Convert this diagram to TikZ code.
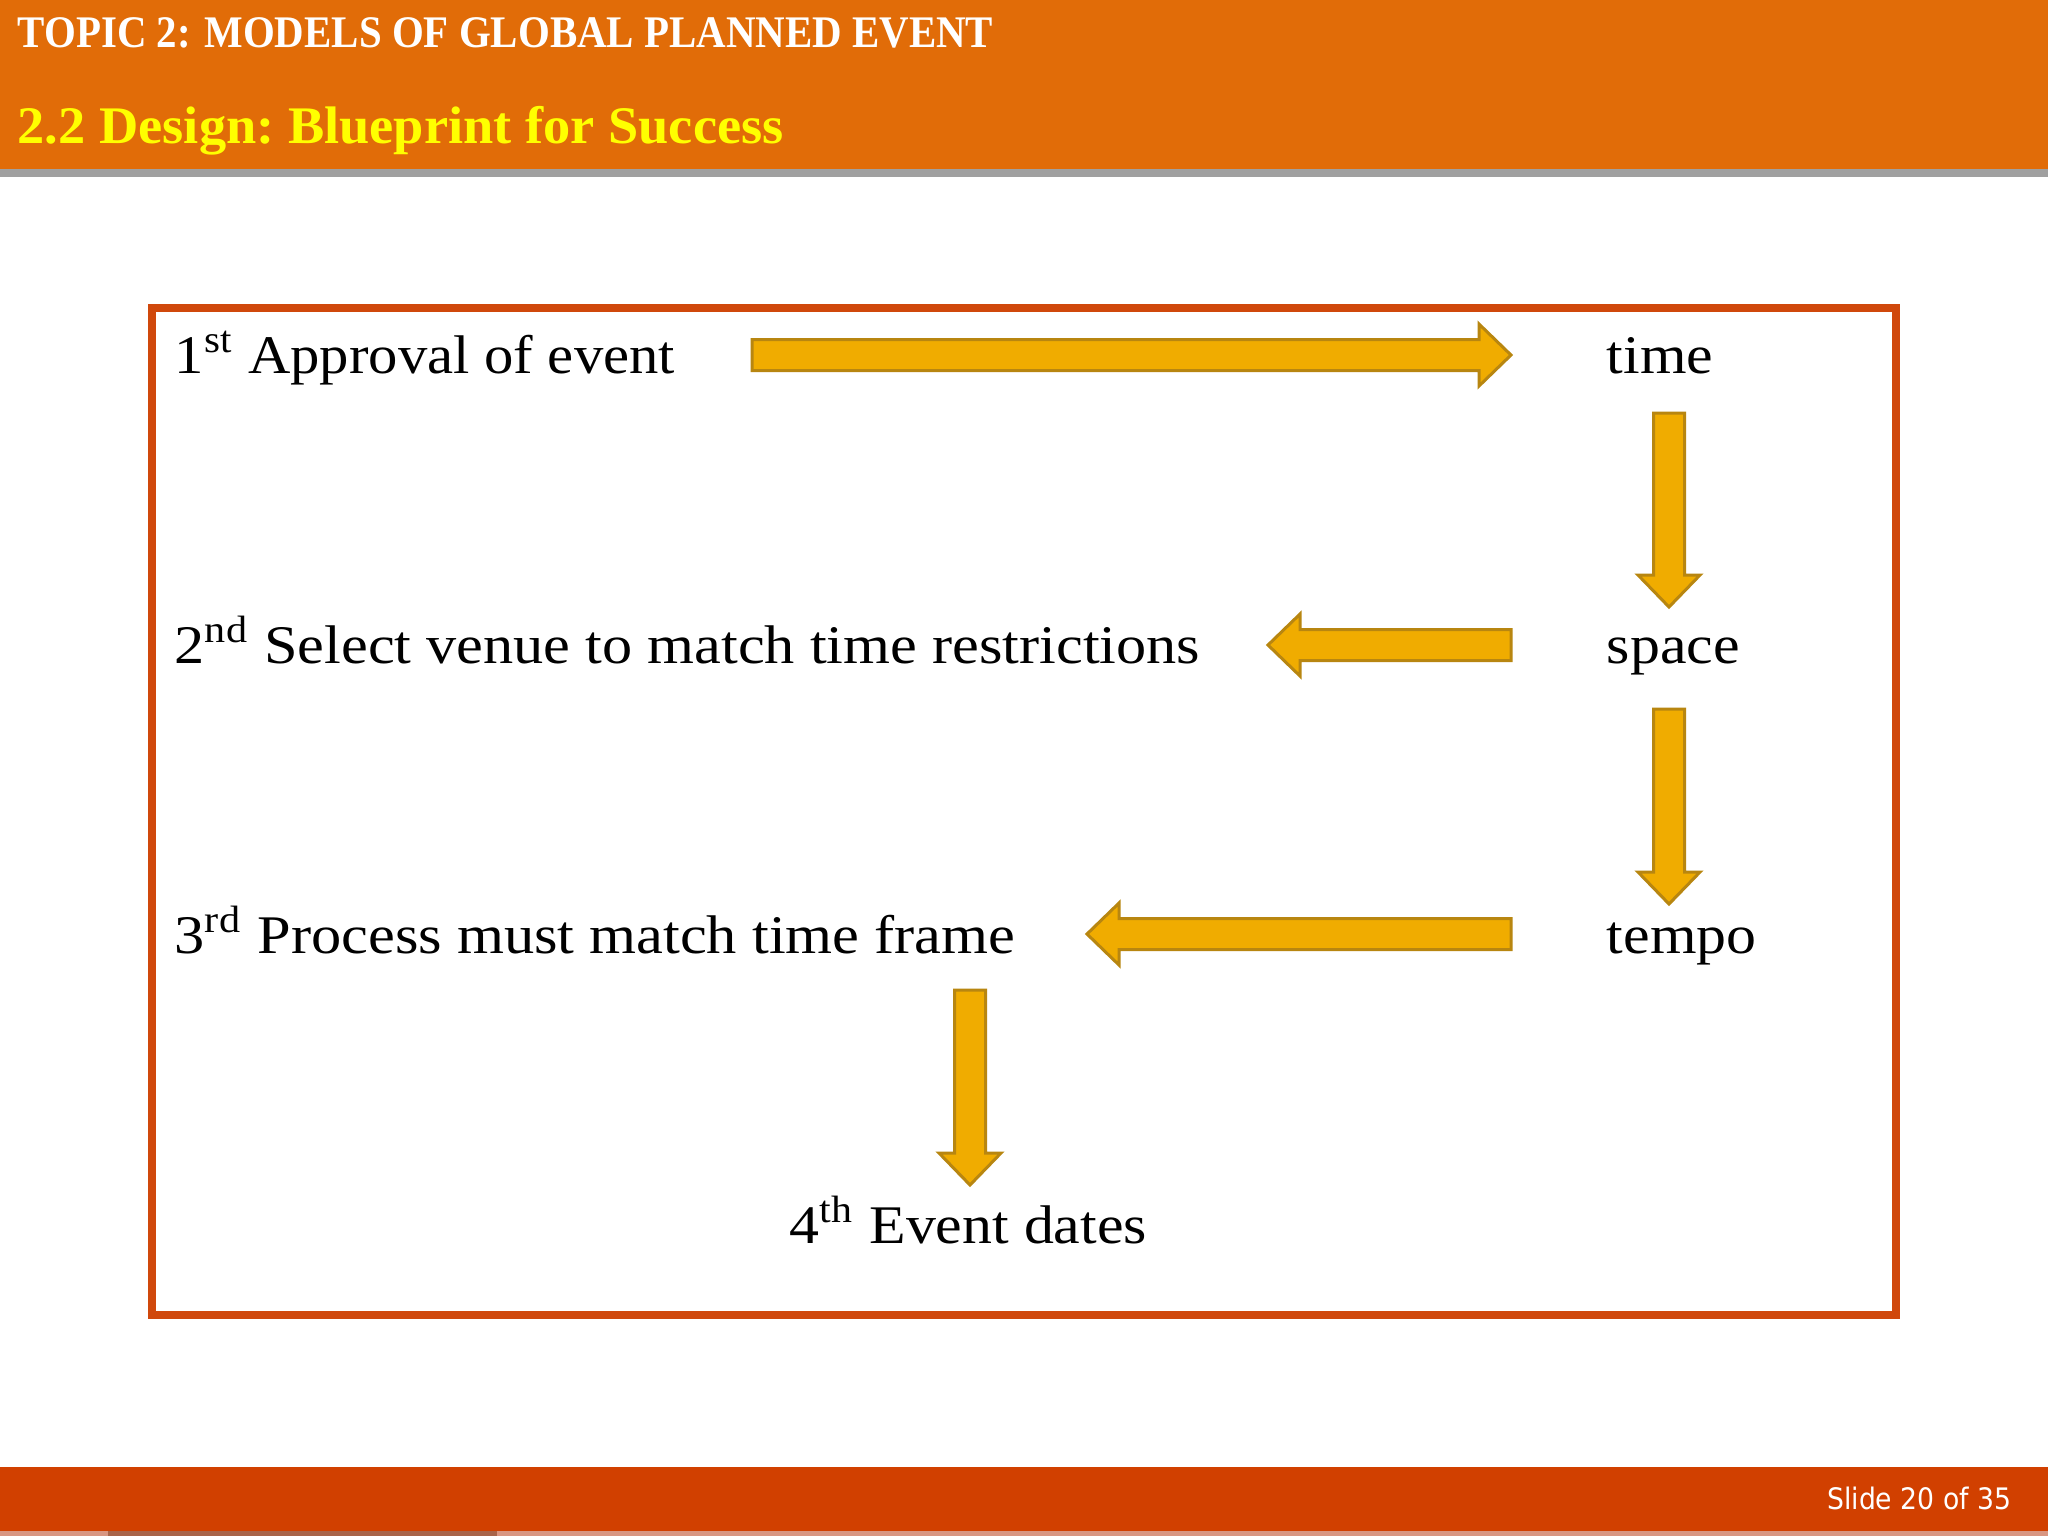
\documentclass[tikz,border=0pt]{standalone}
\usepackage{fontspec}
\usetikzlibrary{calc}
\setmainfont{Liberation Serif}
\newfontfamily\footfont{DejaVu Sans}
\definecolor{hdr}{RGB}{225,108,8}
\definecolor{hdrline}{RGB}{160,160,160}
\definecolor{ttlyel}{RGB}{255,255,0}
\definecolor{boxred}{RGB}{208,72,12}
\definecolor{ftr}{RGB}{209,64,0}
\definecolor{ftrlight}{RGB}{216,150,130}
\definecolor{ftrdark}{RGB}{168,100,74}
\definecolor{arrfill}{RGB}{240,172,0}
\definecolor{arrline}{RGB}{184,134,16}
\newcommand\bt[2][1.10]{\scalebox{#1}[1]{\frenchspacing #2}}
\tikzset{
  bodytext/.style={anchor=base west,inner sep=0pt,text=black,font=\fontsize{13.6pt}{16pt}\selectfont},
  blockfill/.style={fill=arrfill,draw=arrline,line width=0.75pt,line join=miter},
}
\newcommand\blockarrow[2]{%
  \coordinate (#1b) at ($(#2)!8pt!(#1)$);
  \path[blockfill]
    ($(#1)!3.875pt!-90:(#2)$) -- ($(#1b)!3.875pt!-90:(#2)$) -- ($(#1b)!7.75pt!-90:(#2)$)
    -- (#2) -- ($(#1b)!7.75pt!90:(#2)$) -- ($(#1b)!3.875pt!90:(#2)$) -- ($(#1)!3.875pt!90:(#2)$) -- cycle;
}
\begin{document}
\begin{tikzpicture}[x=0.25pt,y=-0.25pt]
\useasboundingbox (0,0) rectangle (2048,1536);
\fill[white] (0,0) rectangle (2048,1536);
% header
\fill[hdr] (0,0) rectangle (2048,169);
\fill[hdrline] (0,169) rectangle (2048,177);
\node[anchor=base west,inner sep=0pt,text=white,font=\bfseries\fontsize{11.3pt}{13pt}\selectfont] (t1) at (17,47) {\scalebox{0.905}[1]{TOPIC 2: MODELS OF GLOBAL PLANNED EVENT}};
\node[anchor=base west,inner sep=0pt,text=ttlyel,font=\bfseries\fontsize{13.2pt}{15pt}\selectfont] (t2) at (17,143) {\scalebox{1.03}[1]{\frenchspacing 2.2 Design: Blueprint for Success}};
% footer
\fill[ftr] (0,1467) rectangle (2048,1531);
\fill[ftrlight] (0,1531) rectangle (2048,1536);
\fill[ftrdark] (108,1531) rectangle (497,1536);
\node[anchor=base east,inner sep=0pt,text=white,font=\footfont\fontsize{7.4pt}{9pt}\selectfont] (ft) at (2012,1509) {\scalebox{0.9}[1]{Slide 20 of 35}};
% frame
\draw[boxred,line width=2pt] (152,308) rectangle (1896,1315);
% texts
\node[bodytext] (r1) at (174,373) {\bt[1.078]{1\textsuperscript{st} Approval of event}};
\node[bodytext] (time) at (1606,373) {\bt{time}};
\node[bodytext] (r2) at (174,663) {\bt[1.108]{2\textsuperscript{nd} Select venue to match time restrictions}};
\node[bodytext] (space) at (1606,663) {\bt{space}};
\node[bodytext] (r3) at (174,953) {\bt[1.11]{3\textsuperscript{rd} Process must match time frame}};
\node[bodytext] (tempo) at (1606,953) {\bt{tempo}};
\node[bodytext] (r4) at (789,1243) {\bt{4\textsuperscript{th} Event dates}};
% arrows
\coordinate (a1) at (752,355);  \coordinate (a1t) at (1511,355);
\coordinate (d1) at (1669,413); \coordinate (d1t) at (1669,607);
\coordinate (a2) at (1511,645); \coordinate (a2t) at (1268,645);
\coordinate (d2) at (1669,709); \coordinate (d2t) at (1669,904);
\coordinate (a3) at (1511,934); \coordinate (a3t) at (1087,934);
\coordinate (d3) at (970,990);  \coordinate (d3t) at (970,1185);
\blockarrow{a1}{a1t}
\blockarrow{d1}{d1t}
\blockarrow{a2}{a2t}
\blockarrow{d2}{d2t}
\blockarrow{a3}{a3t}
\blockarrow{d3}{d3t}
\end{tikzpicture}
\end{document}
